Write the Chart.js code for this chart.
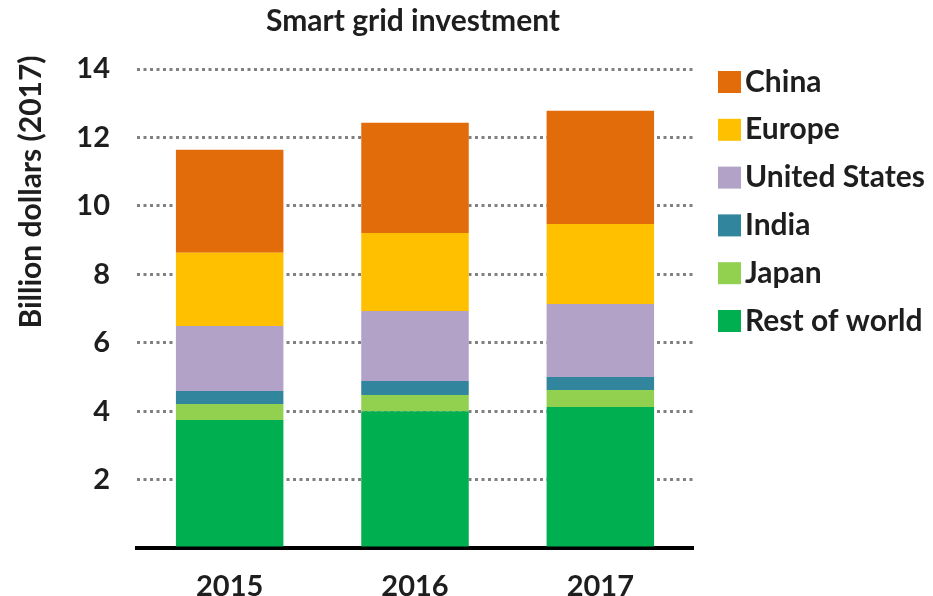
<!DOCTYPE html>
<html>
<head>
<meta charset="utf-8">
<script src="https://cdn.jsdelivr.net/npm/chart.js@4.4.0/dist/chart.umd.min.js"></script>
<style>
  body { margin: 0; background: #fff; }
  #wrap { width: 933px; height: 596px; }
</style>
</head>
<body>
<div id="wrap"><canvas id="myChart" width="933" height="596"></canvas></div>
<script>
// data (billion dollars, 2017)
const years = ['2015', '2016', '2017'];
const seriesNames = ['Rest of world', 'Japan', 'India', 'United States', 'Europe', 'China'];
const restOfWorld = [3.74, 4.0, 4.12];
const japan = [0.47, 0.47, 0.50];
const india = [0.38, 0.41, 0.38];
const unitedStates = [1.90, 2.05, 2.13];
const europe = [2.14, 2.28, 2.34];
const china = [3.01, 3.22, 3.31];
const seriesColors = ['#00B050', '#92D050', '#31859C', '#B3A2C7', '#FFC000', '#E36C0A'];
const yTicks = [2, 4, 6, 8, 10, 12, 14];

const chartTitle = 'Smart grid investment';
const yAxisLabel = 'Billion dollars (2017)';
const textColor = '#1e1e1e';
const fontFamily = 'Lato, "Open Sans", sans-serif';

const seriesValues = [restOfWorld, japan, india, unitedStates, europe, china];

// title, rotated y label and the legend on the right
const extraText = {
  id: 'extraText',
  afterDraw(chart) {
    const ctx = chart.ctx;
    ctx.save();
    ctx.fillStyle = textColor;
    ctx.font = 'bold 30px ' + fontFamily;
    ctx.textAlign = 'center';
    ctx.textBaseline = 'middle';
    ctx.fillText(chartTitle, 413, 21);

    ctx.save();
    ctx.translate(31, 192);
    ctx.rotate(-Math.PI / 2);
    ctx.fillText(yAxisLabel, 0, 0);
    ctx.restore();

    // legend, top entry = last dataset
    ctx.textAlign = 'left';
    const ds = chart.data.datasets;
    for (let i = 0; i < ds.length; i++) {
      const d = ds[ds.length - 1 - i];
      const cy = 82 + i * 47.8;
      ctx.fillStyle = d.backgroundColor;
      ctx.fillRect(718, cy - 11, 23, 22);
      ctx.fillStyle = textColor;
      ctx.fillText(d.label, 745, cy);
    }
    ctx.restore();
  }
};

const ctx1 = document.getElementById('myChart').getContext('2d');

new Chart(ctx1, {
  type: 'bar',
  data: {
    labels: years,
    datasets: seriesNames.map((name, i) => ({
      label: name,
      data: seriesValues[i],
      backgroundColor: seriesColors[i],
      borderWidth: 0,
      barPercentage: 0.58,
      categoryPercentage: 1
    }))
  },
  options: {
    responsive: false,
    animation: false,
    layout: {
      padding: { top: 69, right: 240, bottom: 0, left: 0 }
    },
    plugins: {
      legend: { display: false },
      title: { display: false },
      tooltip: { enabled: false }
    },
    scales: {
      x: {
        stacked: true,
        grid: { display: false },
        border: { display: true, color: '#000', width: 4 },
        ticks: {
          color: textColor,
          padding: 13,
          font: { family: fontFamily, size: 29, weight: 'bold' }
        },
        afterFit(scale) { scale.height = 48; }
      },
      y: {
        stacked: true,
        min: 0,
        max: 14,
        afterBuildTicks(scale) {
          scale.ticks = [0].concat(yTicks).map(v => ({ value: v }));
        },
        afterFit(scale) { scale.width = 137; },
        border: { display: false, dash: [3, 3.5] },
        grid: {
          drawTicks: false,
          lineWidth: 3,
          color: c => (c.tick && c.tick.value === 0) ? 'rgba(0,0,0,0)' : '#808080'
        },
        ticks: {
          color: textColor,
          padding: 27,
          font: { family: fontFamily, size: 29, weight: 'bold' },
          callback: v => v === 0 ? '' : v
        }
      }
    }
  },
  plugins: [extraText]
});
</script>
</body>
</html>
